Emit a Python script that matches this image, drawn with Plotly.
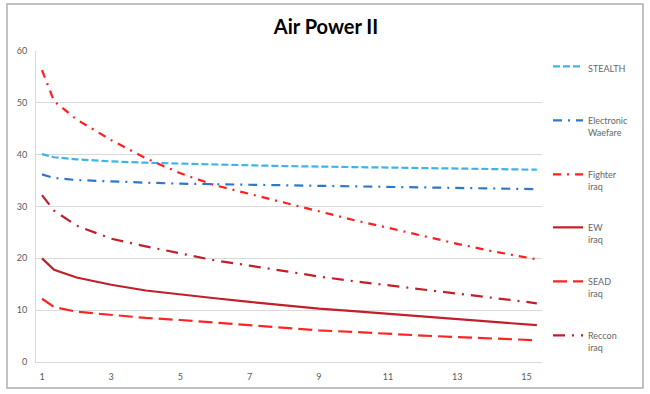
import plotly.graph_objects as go

# ---- data ----
x_pos = [1, 1.35, 2, 3, 4, 5, 6, 7, 8, 9, 10, 11, 12, 13, 14, 15, 15.3]
tick_vals = [1, 3, 5, 7, 9, 11, 13, 15]
tick_text = ["1", "3", "5", "7", "9", "11", "13", "15"]

stealth = [40.1, 39.5, 39.1, 38.7, 38.45, 38.25, 38.1, 37.95, 37.8, 37.7, 37.6, 37.5, 37.4, 37.3, 37.2, 37.1, 37.1]
ewarfare = [36.2, 35.5, 35.1, 34.8, 34.6, 34.4, 34.3, 34.1, 34.0, 33.9, 33.8, 33.7, 33.6, 33.5, 33.45, 33.4, 33.35]
fighter = [56.3, 50.3, 46.8, 42.8, 39.3, 36.4, 34.1, 32.4, 30.7, 29.1, 27.4, 25.9, 24.3, 22.8, 21.4, 20.2, 19.8]
ew_iraq = [20.0, 17.8, 16.3, 14.9, 13.8, 13.0, 12.3, 11.6, 10.9, 10.3, 9.8, 9.3, 8.8, 8.3, 7.8, 7.3, 7.1]
sead = [12.2, 10.6, 9.7, 9.1, 8.5, 8.1, 7.6, 7.0, 6.5, 6.1, 5.8, 5.4, 5.1, 4.8, 4.5, 4.25, 4.2]
reccon = [32.2, 29.2, 26.3, 23.8, 22.3, 20.9, 19.6, 18.6, 17.5, 16.5, 15.6, 14.8, 14.0, 13.3, 12.5, 11.6, 11.3]

names = ["STEALTH", "Electronic<br>Waefare", "Fighter<br>iraq", "EW<br>iraq", "SEAD<br>iraq", "Reccon<br>iraq"]
series = [stealth, ewarfare, fighter, ew_iraq, sead, reccon]
colors = ["#3DB4EA", "#2E78C8", "#FF1F1F", "#C21F2A", "#FF2424", "#C21F2A"]
dashes = ["7px,3px", "9px,6px,2px,6px", "8px,6px,2px,6px", "solid", "14px,6px", "12px,7px,2px,7px"]
legend_ids = ["legend", "legend2", "legend3", "legend4", "legend5", "legend6"]
legend_ypx = [65, 119, 173, 226, 280, 334]

# plot area in pixels
L, R, T, B = 36, 542, 51, 362
W, H = 650, 394

fig = go.Figure()
for nm, ys, c, d, lg in zip(names, series, colors, dashes, legend_ids):
    fig.add_trace(go.Scatter(
        x=x_pos, y=ys, name=nm, mode="lines",
        line=dict(color=c, width=2.2, dash=d),
        legend=lg, hoverinfo="skip",
    ))

def px_to_paper_x(px):
    return (px - L) / (R - L)

def px_to_paper_y(py):
    return (B - py) / (B - T)

layout_legends = {}
for lg, ypx in zip(legend_ids, legend_ypx):
    layout_legends[lg] = dict(
        x=px_to_paper_x(548), xanchor="left",
        y=px_to_paper_y(ypx - 11), yanchor="top",
        valign="top",
        font=dict(family="Lato, Open Sans, sans-serif", size=9, color="#666666"),
        bgcolor="rgba(0,0,0,0)",
        itemwidth=30,
        tracegroupgap=0,
    )

fig.update_layout(
    width=W, height=H,
    margin=dict(l=L, r=W - R, t=T, b=H - B, pad=0),
    paper_bgcolor="white", plot_bgcolor="white",
    title=dict(text="<b>Air Power II</b>", x=326 / W, xref="container", xanchor="center",
               y=1 - 27 / H, yanchor="middle",
               font=dict(family="Lato, Open Sans, sans-serif", size=20, color="#000000")),
    showlegend=True,
    **layout_legends,
)

fig.update_xaxes(
    range=[0.827, 15.45], tickvals=tick_vals, ticktext=tick_text,
    showgrid=False, zeroline=False, showline=True, linecolor="#D9D9D9", linewidth=1,
    ticks="", tickfont=dict(family="Lato, Open Sans, sans-serif", size=9, color="#595959"),
    ticklabelstandoff=6,
)
fig.update_yaxes(
    range=[0, 60], tickvals=[0, 10, 20, 30, 40, 50, 60],
    showgrid=True, gridcolor="#D9D9D9", gridwidth=1,
    zeroline=False, showline=True, linecolor="#D9D9D9", linewidth=1,
    ticks="", tickfont=dict(family="Lato, Open Sans, sans-serif", size=9, color="#595959"),
    ticklabelstandoff=6,
)

# outer chart border
fig.add_shape(type="rect", xref="paper", yref="paper",
              x0=px_to_paper_x(7), x1=px_to_paper_x(643),
              y0=px_to_paper_y(388), y1=px_to_paper_y(4),
              line=dict(color="#AFAFAF", width=1.5), fillcolor="rgba(0,0,0,0)", layer="below")

fig.write_html("out.html", config={"displayModeBar": False},
               post_script="document.body.style.margin='0';")
